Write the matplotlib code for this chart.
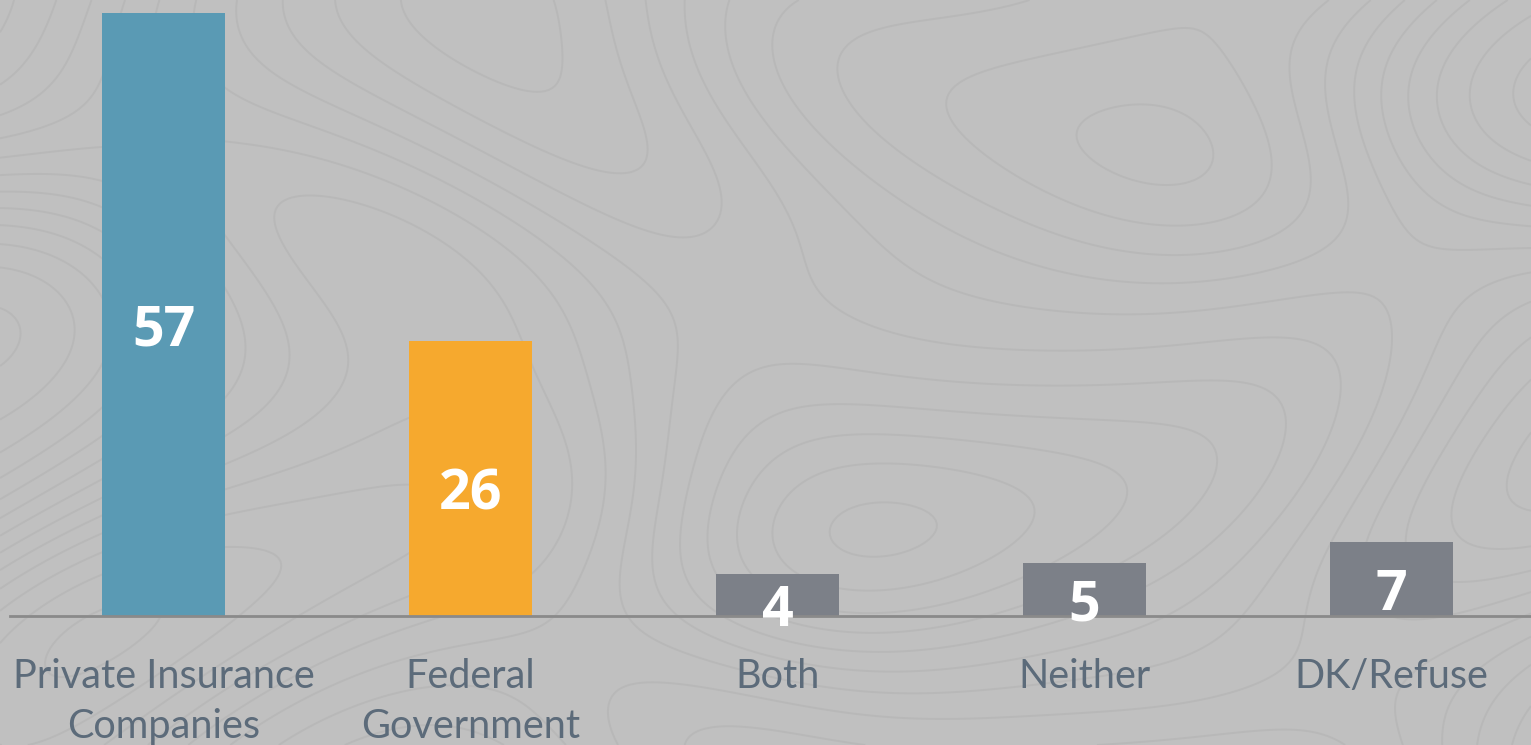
import matplotlib
matplotlib.use('Agg')
import matplotlib.pyplot as plt
import numpy as np

# survey answers (percent)
categories = ['Private Insurance\nCompanies', 'Federal\nGovernment', 'Both', 'Neither', 'DK/Refuse']
values = [57, 26, 4, 5, 7]
colors = ['#5a9ab4', '#f6a92e', '#7c8088', '#7c8088', '#7c8088']

W, H = 1531, 745
fig = plt.figure(figsize=(W / 100, H / 100), dpi=100)
fig.patch.set_facecolor('#c0c0c0')

# faint topographic texture in the background (decoration only)
bg = fig.add_axes([0, 0, 1, 1], zorder=0)
gx, gy = np.meshgrid(np.linspace(0, 10, 400), np.linspace(0, 5, 200))
field = (np.sin(gx * 0.9 + np.cos(gy * 1.3) * 1.5) + np.cos(gy * 1.1 - np.sin(gx * 0.7) * 2.0)
         + 0.5 * np.sin(gx * 0.4 + gy * 1.7))
bg.contour(gx, gy, field, levels=14, colors='#b5b5b5', linewidths=1.4,
           linestyles='solid', alpha=0.7)
bg.set_facecolor('#c0c0c0')
bg.axis('off')

# main axes: baseline at y=616px, top of 57 at y=13px
ax = fig.add_axes([10 / W, 129 / H, 1535 / W, 603 / H], zorder=1)
ax.patch.set_alpha(0)
x = np.arange(len(values))
ax.bar(x, values, width=0.4, color=colors, zorder=2)
ax.set_xlim(-0.5, 4.5)
ax.set_ylim(0, 57)

for xi, v in zip(x, values):
    ax.text(xi, v / 2 - 1.6, str(v), ha='center', va='center', color='white',
            fontsize=40, fontweight='bold', family='Open Sans', zorder=3)

for s in ['top', 'right', 'left']:
    ax.spines[s].set_visible(False)
ax.spines['bottom'].set_color('#8a8a8a')
ax.spines['bottom'].set_linewidth(2)
ax.set_yticks([])
ax.set_xticks(x)
ax.set_xticklabels(categories, fontsize=28.5, color='#5c6b7a', family='Lato', linespacing=1.45)
ax.tick_params(axis='x', length=0, pad=30)

fig.savefig('out.png', dpi=100, facecolor=fig.get_facecolor())
